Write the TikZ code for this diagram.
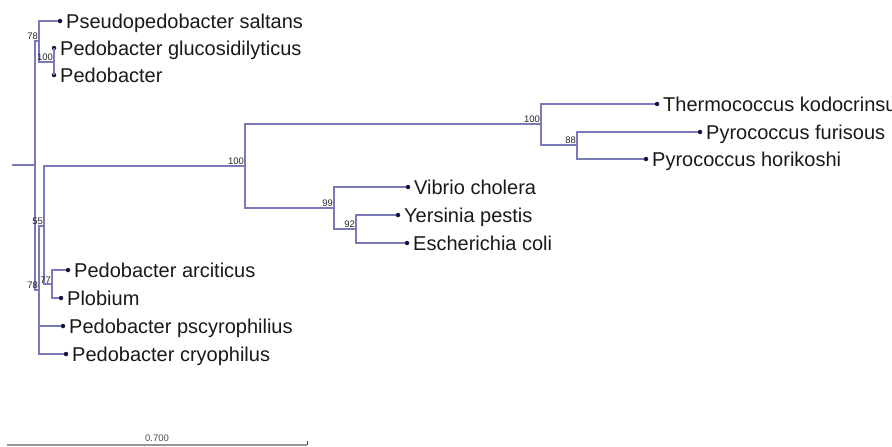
\documentclass[tikz,border=0pt]{standalone}
\usepackage{fontspec}
\setmainfont{Liberation Sans}
\usepackage{tikz}
\definecolor{branchcol}{RGB}{122,122,184}
\definecolor{tipcol}{RGB}{20,20,60}
\definecolor{barcol}{RGB}{150,150,150}
\begin{document}
\begin{tikzpicture}[x=1pt,y=-1pt,
  branch/.style={draw=branchcol, line width=1.3pt},
  tip/.style={circle, fill=tipcol, inner sep=0pt, minimum size=4.5pt},
  taxon/.style={anchor=base west, inner sep=0pt, xshift=6pt, yshift=-7pt, font=\fontsize{20}{24}\selectfont, text=black!90},
  bs/.style={above left, inner sep=0.8pt, font=\fontsize{9.5}{10}\selectfont, text=black!85}]

  \useasboundingbox (0,0) rectangle (892,447);

  % internal nodes
  \coordinate (stub) at (12,165);
  \coordinate (root) at (35,165);
  \coordinate (t78) at (39,41);
  \coordinate (t100) at (54,62);
  \coordinate (b78) at (39,290);
  \coordinate (b55) at (44,226);
  \coordinate (n77) at (52,284);
  \coordinate (big) at (245,166);
  \coordinate (top100) at (541,124);
  \coordinate (n88) at (577,145);
  \coordinate (n99) at (334,208);
  \coordinate (n92) at (356,229);

  % tips
  \node[tip] (sal) at (60,21) {};
  \node[tip] (glu) at (54,48) {};
  \node[tip] (ped) at (54,75) {};
  \node[tip] (arc) at (68,270) {};
  \node[tip] (plo) at (61,298) {};
  \node[tip] (psy) at (63,326) {};
  \node[tip] (cry) at (66,354) {};
  \node[tip] (the) at (657,104) {};
  \node[tip] (fur) at (700,132) {};
  \node[tip] (hor) at (646,159) {};
  \node[tip] (vib) at (408,187) {};
  \node[tip] (yer) at (398,215) {};
  \node[tip] (esc) at (407,243) {};

  \node[taxon] (sal-t) at (sal) {Pseudopedobacter saltans};
  \node[taxon] (glu-t) at (glu) {Pedobacter glucosidilyticus};
  \node[taxon] (ped-t) at (ped) {Pedobacter};
  \node[taxon] (arc-t) at (arc) {Pedobacter arciticus};
  \node[taxon] (plo-t) at (plo) {Plobium};
  \node[taxon] (psy-t) at (psy) {Pedobacter pscyrophilius};
  \node[taxon] (cry-t) at (cry) {Pedobacter cryophilus};
  \node[taxon] (the-t) at (the) {Thermococcus kodocrinsus};
  \node[taxon] (fur-t) at (fur) {Pyrococcus furisous};
  \node[taxon] (hor-t) at (hor) {Pyrococcus horikoshi};
  \node[taxon] (vib-t) at (vib) {Vibrio cholera};
  \node[taxon] (yer-t) at (yer) {Yersinia pestis};
  \node[taxon] (esc-t) at (esc) {Escherichia coli};

  % branches
  \draw[branch] (stub) -- (root);
  \draw[branch] (root) |- (t78);
  \draw[branch] (root) |- (b78);
  \draw[branch] (t78) |- (sal);
  \draw[branch] (t78) |- (t100);
  \draw[branch] (t100) |- (glu);
  \draw[branch] (t100) |- (ped);
  \draw[branch] (b78) |- (b55);
  \draw[branch] (b78) |- (psy);
  \draw[branch] (b78) |- (cry);
  \draw[branch] (b55) |- (big);
  \draw[branch] (b55) |- (n77);
  \draw[branch] (n77) |- (arc);
  \draw[branch] (n77) |- (plo);
  \draw[branch] (big) |- (top100);
  \draw[branch] (big) |- (n99);
  \draw[branch] (top100) |- (the);
  \draw[branch] (top100) |- (n88);
  \draw[branch] (n88) |- (fur);
  \draw[branch] (n88) |- (hor);
  \draw[branch] (n99) |- (vib);
  \draw[branch] (n99) |- (n92);
  \draw[branch] (n92) |- (yer);
  \draw[branch] (n92) |- (esc);

  % bootstrap values
  \node[bs] (t78-l) at (t78) {78};
  \node[bs] (t100-l) at (t100) {100};
  \node[bs] (b78-l) at (b78) {78};
  \node[bs] (b55-l) at (b55) {55};
  \node[bs] (n77-l) at (n77) {77};
  \node[bs] (big-l) at (big) {100};
  \node[bs] (top100-l) at (top100) {100};
  \node[bs] (n88-l) at (n88) {88};
  \node[bs] (n99-l) at (n99) {99};
  \node[bs] (n92-l) at (n92) {92};

  % scale bar
  \coordinate (sb-a) at (7,445);
  \coordinate (sb-b) at (307,445);
  \draw[barcol, line width=1.8pt] (sb-a) -- (sb-b);
  \draw[black!70, line width=1pt] (sb-b) -- ++(0,-4);
  \node[above, inner sep=1pt, font=\fontsize{9.5}{10}\selectfont, text=black!70] (sb-l) at (157,443) {0.700};

\end{tikzpicture}
\end{document}
